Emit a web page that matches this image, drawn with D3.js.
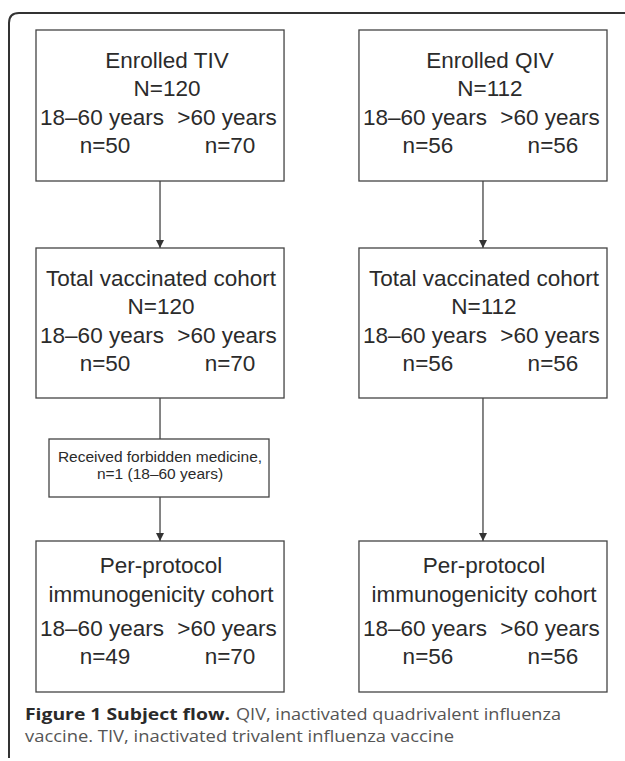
<!DOCTYPE html>
<html>
<head>
<meta charset="utf-8">
<script src="https://cdn.jsdelivr.net/npm/d3@7"></script>
<style>
  body { margin: 0; background: #fff; }
  .caixa { fill: #fff; stroke: #444; stroke-width: 1.3; }
  .texto { font-family: "Liberation Sans", Arimo, Arial, sans-serif; fill: #2b2b2b; }
  .legenda { font-family: "Open Sans", sans-serif; font-size: 16px; fill: #555; }
</style>
</head>
<body>
<svg id="fluxo"></svg>
<script>
// Dados do fluxograma
var bracos = ['TIV', 'QIV'];
var etapas = ['Enrolled', 'Total vaccinated cohort', 'Per-protocol immunogenicity cohort'];
var faixas = ['18\u201360 years', '>60 years'];
var totalTIV = [120, 120];
var totalQIV = [112, 112];
var jovensTIV = [50, 50, 49];
var idososTIV = [70, 70, 70];
var jovensQIV = [56, 56, 56];
var idososQIV = [56, 56, 56];
var exclusao = ['Received forbidden medicine,', 'n=1 (18\u201360 years)'];
var legendaNegrito = 'Figure 1 Subject flow.';
var legendaTexto = ['QIV, inactivated quadrivalent influenza', 'vaccine. TIV, inactivated trivalent influenza vaccine'];

var largura = 625, altura = 761;
var svg = d3.select('#fluxo').attr('width', largura).attr('height', altura);

// Moldura com canto arredondado
svg.append('path')
   .attr('d', 'M9,758 L9,23 Q9,13 19,13 L625,13')
   .attr('fill', 'none')
   .attr('stroke', '#333')
   .attr('stroke-width', 2);

// Escalas: colunas (braços) e linhas (etapas)
var x = d3.scaleBand().domain(bracos).range([36, 607]).paddingInner(0.232);
var y = d3.scaleOrdinal().domain(etapas).range([30, 248, 541]);
var alturaCaixa = 151;

var dados = {
  TIV: { total: totalTIV, jovens: jovensTIV, idosos: idososTIV },
  QIV: { total: totalQIV, jovens: jovensQIV, idosos: idososQIV }
};

// Marcador de seta
svg.append('defs').append('marker')
   .attr('id', 'seta')
   .attr('viewBox', '0 0 10 10')
   .attr('refX', 10).attr('refY', 5)
   .attr('markerWidth', 8).attr('markerHeight', 8)
   .attr('markerUnits', 'userSpaceOnUse')
   .attr('orient', 'auto')
   .append('path')
   .attr('d', 'M0,0 L10,5 L0,10 Z')
   .attr('fill', '#333');

function linha(x0, y0, y1, comSeta) {
  var l = svg.append('line')
     .attr('x1', x0).attr('x2', x0)
     .attr('y1', y0).attr('y2', y1)
     .attr('stroke', '#444')
     .attr('stroke-width', 1.3);
  if (comSeta) l.attr('marker-end', 'url(#seta)');
}

bracos.forEach(function(b) {
  var x0 = x(b), w = x.bandwidth(), cx = x0 + w / 2;
  var d = dados[b];

  // Setas entre as caixas
  linha(cx, y(etapas[0]) + alturaCaixa, y(etapas[1]), true);
  if (b === 'TIV') {
    linha(cx, y(etapas[1]) + alturaCaixa - 1, 439, false);
    linha(cx, 497, y(etapas[2]), true);
  } else {
    linha(cx, y(etapas[1]) + alturaCaixa - 1, y(etapas[2]), true);
  }

  etapas.forEach(function(e, i) {
    var y0 = y(e);
    var g = svg.append('g').attr('transform', 'translate(' + x0 + ',' + y0 + ')');
    g.append('rect').attr('class', 'caixa')
     .attr('x', 0).attr('y', 0)
     .attr('width', w).attr('height', i === 1 ? 150 : alturaCaixa);

    var titulo;
    if (i === 0) titulo = [e + ' ' + b, 'N=' + d.total[0]];
    else if (i === 1) titulo = [e, 'N=' + d.total[1]];
    else titulo = ['Per-protocol', 'immunogenicity cohort'];
    var dyTitulo = i === 2 ? [32, 61] : [37.5, 65.5];
    var dxTitulo = i === 0 ? 7 : 1;

    titulo.forEach(function(t, j) {
      g.append('text').attr('class', 'texto')
       .attr('x', w / 2 + dxTitulo).attr('y', dyTitulo[j])
       .attr('text-anchor', 'middle')
       .style('font-size', '22.5px')
       .text(t);
    });

    var colunas = [66, 191];
    faixas.forEach(function(f, k) {
      g.append('text').attr('class', 'texto')
       .attr('x', colunas[k]).attr('y', 94.5)
       .attr('text-anchor', 'middle')
       .style('font-size', '22.5px')
       .text(f);
      var n = k === 0 ? d.jovens[i] : d.idosos[i];
      g.append('text').attr('class', 'texto')
       .attr('x', colunas[k] + 3).attr('y', 122.5)
       .attr('text-anchor', 'middle')
       .style('font-size', '22.5px')
       .text('n=' + n);
    });
  });
});

// Caixa de exclusão
var ex = svg.append('g').attr('transform', 'translate(49,439)');
ex.append('rect').attr('class', 'caixa')
  .attr('width', 220).attr('height', 58);
exclusao.forEach(function(t, j) {
  ex.append('text').attr('class', 'texto')
    .attr('x', 111).attr('y', 23 + j * 17)
    .attr('text-anchor', 'middle')
    .style('font-size', '15.5px')
    .text(t);
});

// Legenda (largura ajustada com textLength)
svg.append('text').attr('class', 'legenda')
   .attr('x', 25).attr('y', 720)
   .attr('textLength', 205).attr('lengthAdjust', 'spacingAndGlyphs')
   .style('font-weight', 'bold').style('fill', '#2a2a2a')
   .text(legendaNegrito);
svg.append('text').attr('class', 'legenda')
   .attr('x', 236).attr('y', 720)
   .attr('textLength', 325).attr('lengthAdjust', 'spacingAndGlyphs')
   .text(legendaTexto[0]);
svg.append('text').attr('class', 'legenda')
   .attr('x', 25).attr('y', 742)
   .attr('textLength', 429).attr('lengthAdjust', 'spacingAndGlyphs')
   .text(legendaTexto[1]);
</script>
</body>
</html>
